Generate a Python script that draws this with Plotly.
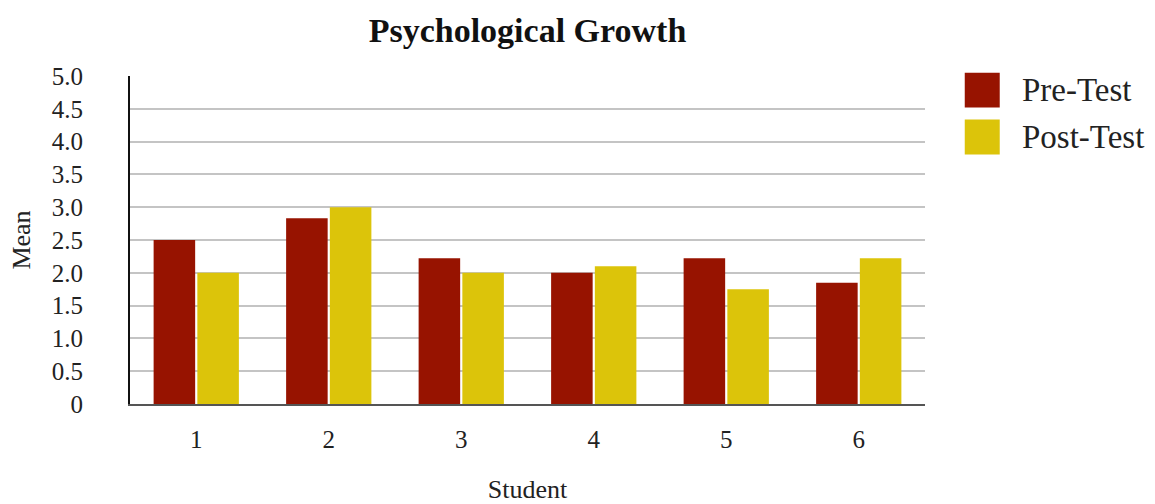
import plotly.graph_objects as go

students = ["1", "2", "3", "4", "5", "6"]
pre_test = [2.5, 2.83, 2.22, 2.0, 2.22, 1.85]
post_test = [2.0, 3.0, 2.0, 2.1, 1.75, 2.22]
y_ticks = [0, 0.5, 1.0, 1.5, 2.0, 2.5, 3.0, 3.5, 4.0, 4.5, 5.0]
y_tick_text = ["0", "0.5", "1.0", "1.5", "2.0", "2.5", "3.0", "3.5", "4.0", "4.5", "5.0"]

PRE_COLOR = "#971300"
POST_COLOR = "#dcc40a"
FONT = "Liberation Serif"

fig = go.Figure()
fig.add_trace(go.Bar(x=students, y=pre_test, name="Pre-Test",
                     marker=dict(color=PRE_COLOR, line=dict(width=0))))
fig.add_trace(go.Bar(x=students, y=post_test, name="Post-Test",
                     marker=dict(color=POST_COLOR, line=dict(width=0))))

fig.update_layout(
    width=1155, height=504,
    margin=dict(l=130, r=230, t=76, b=100),
    paper_bgcolor="white", plot_bgcolor="white",
    font=dict(family=FONT, color="#222222", size=24),
    barmode="group", bargap=0.34, bargroupgap=0.05,
    showlegend=False,
    title=dict(text="<b>Psychological Growth</b>", x=0.5, xref="paper",
               xanchor="center", y=0.94, yanchor="middle",
               font=dict(size=34, family=FONT, color="#111111")),
)
fig.update_xaxes(
    automargin=False,
    showgrid=False, showline=True, linecolor="#555555", linewidth=2,
    ticks="", ticklabelstandoff=12, tickfont=dict(size=25),
    title=dict(text="Student", font=dict(size=26), standoff=32),
)
fig.update_yaxes(
    automargin=False,
    range=[0, 5.0], tickvals=y_ticks, ticktext=y_tick_text,
    showgrid=True, gridcolor="#c4c4c4", gridwidth=2,
    showline=True, linecolor="#111111", linewidth=2,
    ticks="", ticklabelstandoff=40, tickfont=dict(size=25),
    zeroline=False,
    title=dict(text="Mean", font=dict(size=26), standoff=14),
)

# legend drawn with paper-space shapes
legend_items = [("Pre-Test", PRE_COLOR), ("Post-Test", POST_COLOR)]
for i, (label, col) in enumerate(legend_items):
    yc = 0.957 - i * 0.143
    fig.add_shape(type="rect", xref="paper", yref="paper",
                  x0=1.05, x1=1.094, y0=yc - 0.053, y1=yc + 0.053,
                  fillcolor=col, line=dict(width=0))
    fig.add_annotation(text=label, xref="paper", yref="paper",
                       x=1.119, y=yc, xanchor="left", yanchor="middle",
                       showarrow=False, font=dict(size=33, family=FONT, color="#222222"))

fig.write_html("out.html")
